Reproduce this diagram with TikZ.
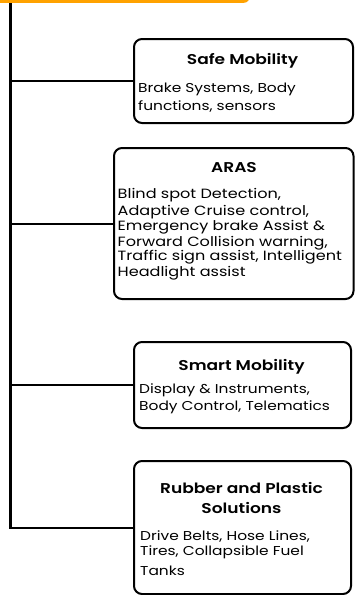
\documentclass[tikz,border=0pt]{standalone}
\usepackage{fontspec}
\setmainfont{Poppins}[FakeStretch=1.2, BoldFont={Poppins SemiBold}, BoldFeatures={FakeStretch=1.2}]
\definecolor{barorange}{HTML}{FFA200}
\begin{document}
\begin{tikzpicture}[x=1pt,y=-1pt,
  box/.style={draw=black, line width=2pt, rounded corners=8pt, fill=white, anchor=north west, inner sep=0pt},
  trunk/.style={line width=2.6pt},
  conn/.style={line width=2pt},
  ttl/.style={font=\fontsize{14.2}{16}\selectfont\bfseries, anchor=base, inner sep=0pt},
  txt/.style={font=\fontsize{12.85}{15}\selectfont, anchor=base west, inner sep=0pt},
  txtar/.style={font=\fontsize{13.4}{15}\selectfont, anchor=base west, inner sep=0pt},
  topbar/.style={fill=barorange, rounded corners=6pt, anchor=south east, inner sep=0pt}
]
\useasboundingbox (0,0) rectangle (354,595);
\node[topbar, minimum width=280pt, minimum height=20pt] (top) at (250,3) {};

% boxes
\node[box, minimum width=219pt, minimum height=84pt] (safe) at (133,38) {};
\node[box, minimum width=239.5pt, minimum height=151pt] (aras) at (113,147) {};
\node[box, minimum width=217pt, minimum height=86pt] (smart) at (133,341) {};
\node[box, minimum width=217pt, minimum height=133pt] (rubber) at (133,460) {};

% trunk and connectors
\coordinate (j1) at (10.5,80);
\coordinate (j2) at (j1 |- aras.west);
\coordinate (j3) at (j1 |- smart.west);
\coordinate (j4) at (j1 |- rubber.west);
\draw[trunk] (top.south -| j1) -- ([yshift=1pt]j4);
\draw[conn] (j1 |- safe.west) -- (safe.west);
\draw[conn] (j2) -- (aras.west);
\draw[conn] (j3) -- (smart.west);
\draw[conn] ([xshift=-1.3pt]j4) -- (rubber.west);

% Safe Mobility
\node[ttl] (safeT) at (242.5,64) {Safe Mobility};
\node[txt] (safeA) at (138,92) {Brake Systems, Body};
\node[txt] (safeB) at (138,110) {functions, sensors};

% ARAS
\node[ttl] (arasT) at (234,172) {ARAS};
\node[txtar] (arasA) at (117.5,198) {Blind spot Detection,};
\node[txtar] (arasB) at (117.5,215.5) {Adaptive Cruise control,};
\node[txtar] (arasC) at (117.5,230) {Emergency brake Assist \&};
\node[txtar] (arasD) at (117.5,246.5) {Forward Collision warning,};
\node[txtar] (arasE) at (117.5,260) {Traffic sign assist, Intelligent};
\node[txtar] (arasF) at (117.5,276.5) {Headlight assist};

% Smart Mobility
\node[ttl] (smartT) at (241.5,370) {Smart Mobility};
\node[txt] (smartA) at (139,393) {Display \& Instruments,};
\node[txt] (smartB) at (139,410) {Body Control, Telematics};

% Rubber
\node[ttl] (rubT1) at (241.5,493) {Rubber and Plastic};
\node[ttl] (rubT2) at (241.5,513) {Solutions};
\node[txt] (rubA) at (140,540) {Drive Belts, Hose Lines,};
\node[txt] (rubB) at (140,555) {Tires, Collapsible Fuel};
\node[txt] (rubC) at (140,575) {Tanks};
\end{tikzpicture}
\end{document}
